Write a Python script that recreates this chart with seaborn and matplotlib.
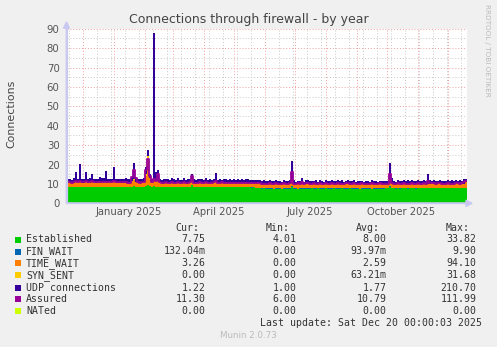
import numpy as np
import pandas as pd
import matplotlib
matplotlib.use("Agg")
import matplotlib.pyplot as plt
import matplotlib.dates as mdates
from matplotlib.patches import Rectangle, FancyArrow
import seaborn as sns

# ---------------- data (2-day samples, 2024-11-15 .. 2025-12-20) ----------------
start_date = "2024-11-15"
end_date = "2025-12-20"

established = [
    8.4, 8.5, 8.3, 8.5, 8.6, 8.4, 8.5, 8.4, 8.3, 8.5, 8.4, 8.6, 8.5, 8.4, 8.3, 8.5, 8.4, 8.5, 8.6, 8.4,
    8.5, 8.4, 8.3, 8.6, 8.5, 8.4, 8.5, 8.3, 8.4, 8.5, 8.4, 8.3, 8.6, 8.8, 8.5, 8.4, 8.3, 8.5, 8.4, 8.9,
    9.4, 8.8, 8.5, 9.0, 8.6, 8.4, 8.5, 8.3, 8.4, 8.5, 8.4, 8.3, 8.5, 8.4, 8.3, 8.5, 8.4, 8.3, 8.5, 8.4,
    8.3, 8.5, 9.6, 8.4, 8.3, 8.4, 8.5, 8.3, 8.4, 8.5, 8.3, 8.4, 8.3, 8.5, 8.4, 8.3, 8.4, 8.5, 8.3, 8.4,
    8.3, 8.4, 8.2, 8.3, 8.4, 8.2, 8.3, 8.2, 8.4, 8.3, 8.2, 8.3, 8.1, 8.2, 8.0, 7.9, 7.7, 7.6, 7.7, 7.6,
    7.5, 7.6, 7.5, 7.4, 7.5, 7.6, 7.5, 7.4, 7.6, 7.5, 7.6, 7.5, 8.6, 7.6, 7.5, 7.4, 7.5, 7.6, 7.5, 7.6,
    7.5, 7.6, 7.7, 7.5, 7.6, 7.7, 7.6, 7.5, 7.6, 7.7, 7.6, 7.5, 7.6, 7.7, 7.6, 7.5, 7.6, 7.7, 7.6, 7.5,
    7.6, 7.7, 7.6, 7.5, 7.6, 7.5, 7.4, 7.5, 7.6, 7.5, 7.6, 7.5, 7.4, 7.5, 7.6, 7.5, 7.6, 7.5, 7.6, 7.7,
    7.8, 8.6, 7.8, 7.7, 7.6, 7.7, 7.6, 7.7, 7.8, 7.7, 7.6, 7.7, 7.8, 7.7, 7.6, 7.7, 7.8, 7.7, 7.8, 7.7,
    7.8, 7.7, 7.8, 7.7, 7.8, 7.9, 7.8, 7.7, 7.8, 7.7, 7.8, 7.7, 7.8, 7.7, 7.8, 7.7, 7.8, 7.7, 7.8, 7.75,
]

fin_wait = [
    0.05, 0.04, 0.05, 0.06, 0.05, 0.04, 0.05, 0.05, 0.06, 0.05, 0.04, 0.05, 0.05, 0.06, 0.05, 0.04, 0.05, 0.05, 0.06, 0.05,
    0.04, 0.05, 0.05, 0.06, 0.05, 0.04, 0.05, 0.05, 0.06, 0.05, 0.04, 0.05, 0.05, 0.06, 0.05, 0.04, 0.05, 0.05, 0.06, 0.05,
    0.08, 0.05, 0.05, 0.06, 0.05, 0.04, 0.05, 0.05, 0.06, 0.05, 0.04, 0.05, 0.05, 0.06, 0.05, 0.04, 0.05, 0.05, 0.06, 0.05,
    0.04, 0.05, 0.05, 0.06, 0.05, 0.04, 0.05, 0.05, 0.06, 0.05, 0.04, 0.05, 0.05, 0.06, 0.05, 0.04, 0.05, 0.05, 0.06, 0.05,
    0.06, 0.07, 0.08, 0.08, 0.09, 0.10, 0.10, 0.11, 0.12, 0.12, 0.12, 0.13, 0.13, 0.14, 0.14, 0.14, 0.15, 0.15, 0.15, 0.15,
    0.15, 0.14, 0.16, 0.15, 0.14, 0.15, 0.16, 0.15, 0.14, 0.15, 0.16, 0.15, 0.14, 0.15, 0.16, 0.15, 0.14, 0.15, 0.16, 0.15,
    0.14, 0.15, 0.16, 0.15, 0.14, 0.15, 0.16, 0.15, 0.14, 0.15, 0.16, 0.15, 0.14, 0.15, 0.16, 0.15, 0.14, 0.15, 0.16, 0.15,
    0.14, 0.15, 0.16, 0.15, 0.14, 0.15, 0.16, 0.15, 0.14, 0.15, 0.16, 0.15, 0.14, 0.15, 0.16, 0.15, 0.14, 0.15, 0.16, 0.15,
    0.14, 0.15, 0.16, 0.15, 0.14, 0.15, 0.16, 0.15, 0.14, 0.15, 0.16, 0.15, 0.14, 0.15, 0.16, 0.15, 0.14, 0.15, 0.16, 0.15,
    0.14, 0.15, 0.16, 0.15, 0.14, 0.15, 0.16, 0.15, 0.14, 0.15, 0.16, 0.15, 0.14, 0.15, 0.16, 0.15, 0.14, 0.15, 0.16, 0.132,
]

time_wait = [
    2.2, 2.3, 2.1, 2.4, 2.6, 2.3, 2.5, 2.2, 2.3, 2.5, 2.2, 2.4, 2.6, 2.3, 2.2, 2.4, 2.3, 2.5, 2.4, 2.3,
    2.2, 2.3, 2.4, 2.6, 2.3, 2.2, 2.1, 2.3, 2.2, 2.4, 2.1, 2.2, 2.6, 3.2, 2.5, 2.2, 2.1, 2.3, 2.6, 5.0,
    10.0, 4.0, 2.4, 3.5, 2.6, 3.0, 2.3, 2.2, 2.1, 2.2, 2.0, 2.1, 2.2, 2.0, 2.1, 2.2, 2.0, 2.1, 2.2, 2.0,
    2.1, 2.2, 2.6, 2.1, 2.0, 2.1, 2.2, 2.0, 2.1, 2.2, 2.1, 2.0, 2.1, 2.2, 2.3, 2.1, 2.0, 2.1, 2.2, 2.1,
    2.0, 2.1, 2.2, 2.0, 2.1, 2.3, 2.1, 2.2, 2.0, 2.1, 2.3, 2.2, 2.1, 2.2, 2.3, 2.4, 2.5, 2.4, 2.3, 2.4,
    2.3, 2.2, 2.4, 2.3, 2.2, 2.4, 2.3, 2.2, 2.3, 2.4, 2.3, 2.2, 2.8, 2.4, 2.3, 2.2, 2.3, 2.4, 2.2, 2.3,
    2.2, 2.3, 2.2, 2.4, 2.3, 2.2, 2.3, 2.4, 2.2, 2.3, 2.2, 2.1, 2.3, 2.2, 2.4, 2.3, 2.2, 2.3, 2.2, 2.4,
    2.3, 2.2, 2.3, 2.4, 2.2, 2.3, 2.4, 2.2, 2.1, 2.3, 2.2, 2.3, 2.4, 2.2, 2.3, 2.2, 2.1, 2.3, 2.2, 2.3,
    2.2, 2.8, 2.3, 2.2, 2.1, 2.2, 2.3, 2.2, 2.1, 2.2, 2.3, 2.2, 2.1, 2.2, 2.3, 2.2, 2.1, 2.2, 2.3, 2.2,
    2.1, 2.2, 2.3, 2.2, 2.1, 2.2, 2.3, 2.2, 2.1, 2.2, 2.3, 2.2, 2.1, 2.2, 2.3, 2.4, 2.2, 2.3, 2.2, 3.26,
]

syn_sent = [
    0.03, 0.02, 0.03, 0.04, 0.03, 0.02, 0.03, 0.03, 0.04, 0.03, 0.02, 0.03, 0.03, 0.04, 0.03, 0.02, 0.03, 0.03, 0.04, 0.03,
    0.02, 0.03, 0.03, 0.04, 0.03, 0.02, 0.03, 0.03, 0.04, 0.03, 0.02, 0.03, 0.03, 0.30, 0.03, 0.02, 0.03, 0.03, 0.04, 1.00,
    5.00, 0.40, 0.03, 0.20, 0.03, 0.02, 0.03, 0.03, 0.04, 0.03, 0.02, 0.03, 0.03, 0.04, 0.03, 0.02, 0.03, 0.03, 0.04, 0.03,
    0.02, 0.03, 0.10, 0.04, 0.03, 0.02, 0.03, 0.03, 0.04, 0.03, 0.02, 0.03, 0.03, 0.04, 0.03, 0.02, 0.03, 0.03, 0.04, 0.03,
    0.02, 0.03, 0.03, 0.04, 0.03, 0.02, 0.03, 0.03, 0.04, 0.03, 0.02, 0.03, 0.03, 0.04, 0.03, 0.02, 0.03, 0.03, 0.04, 0.03,
    0.02, 0.03, 0.03, 0.04, 0.03, 0.02, 0.03, 0.03, 0.04, 0.03, 0.02, 0.03, 0.40, 0.04, 0.03, 0.02, 0.03, 0.03, 0.04, 0.03,
    0.02, 0.03, 0.03, 0.04, 0.03, 0.02, 0.03, 0.03, 0.04, 0.03, 0.02, 0.03, 0.03, 0.04, 0.03, 0.02, 0.03, 0.03, 0.04, 0.03,
    0.02, 0.03, 0.03, 0.04, 0.03, 0.02, 0.03, 0.03, 0.04, 0.03, 0.02, 0.03, 0.03, 0.04, 0.03, 0.02, 0.03, 0.03, 0.04, 0.03,
    0.02, 1.20, 0.10, 0.04, 0.03, 0.02, 0.03, 0.03, 0.04, 0.03, 0.02, 0.03, 0.03, 0.04, 0.03, 0.02, 0.03, 0.03, 0.04, 0.03,
    0.02, 0.03, 0.03, 0.04, 0.03, 0.02, 0.03, 0.03, 0.04, 0.03, 0.02, 0.03, 0.03, 0.04, 0.03, 0.02, 0.03, 0.03, 0.04, 0.00,
]

udp = [
    1.8, 1.9, 1.7, 2.0, 5.0, 1.8, 9.0, 1.9, 1.7, 5.0, 1.8, 2.0, 4.0, 1.9, 1.8, 1.7, 3.0, 1.9, 1.8, 6.0,
    1.7, 1.8, 1.9, 7.5, 1.8, 1.7, 1.9, 1.8, 1.7, 1.9, 1.8, 1.7, 2.5, 8.5, 2.2, 1.9, 1.8, 1.7, 1.9, 4.0,
    3.0, 2.0, 1.8, 75.0, 5.0, 5.5, 1.9, 1.5, 2.1, 1.6, 2.0, 1.5, 2.5, 1.9, 1.4, 2.1, 1.7, 1.5, 2.0, 1.6,
    2.1, 1.5, 2.6, 1.9, 1.4, 2.2, 1.6, 1.9, 1.5, 2.1, 1.7, 2.0, 1.5, 1.9, 5.0, 1.6, 2.1, 1.5, 1.9, 1.7,
    1.5, 2.0, 1.6, 1.9, 1.4, 2.1, 1.6, 1.8, 1.4, 2.0, 1.7, 1.5, 1.9, 1.6, 1.4, 1.8, 1.5, 1.3, 1.7, 1.4,
    1.4, 1.8, 1.2, 1.6, 1.9, 1.3, 1.7, 1.2, 1.8, 1.5, 1.3, 1.9, 10.0, 1.6, 1.2, 1.8, 1.4, 3.0, 1.2, 1.7,
    1.9, 1.2, 1.6, 1.4, 1.8, 1.1, 1.7, 1.5, 1.2, 1.9, 1.3, 1.6, 1.8, 1.2, 1.5, 1.9, 1.3, 1.7, 1.2, 1.6,
    1.8, 1.3, 1.5, 1.9, 1.2, 1.6, 1.4, 1.8, 1.1, 1.7, 1.5, 1.2, 1.9, 1.4, 1.6, 1.2, 1.8, 1.3, 1.7, 1.5,
    1.4, 8.0, 2.5, 1.6, 1.2, 1.8, 1.5, 1.3, 1.9, 1.2, 1.7, 1.4, 1.8, 1.2, 1.6, 1.9, 1.3, 1.5, 1.8, 1.2,
    5.0, 1.7, 1.3, 1.8, 1.5, 1.2, 1.9, 1.4, 1.6, 1.2, 1.8, 1.3, 1.7, 1.5, 1.9, 1.2, 1.6, 1.4, 2.5, 1.22,
]

assured = [
    10.9, 11.0, 10.7, 11.1, 11.4, 11.0, 11.6, 10.9, 10.9, 11.3, 10.9, 11.2, 11.3, 10.9, 10.8, 11.1, 11.0, 11.2, 11.2, 11.0,
    11.0, 10.9, 10.9, 11.4, 11.0, 10.8, 10.8, 10.8, 10.8, 11.1, 10.7, 10.7, 13.5, 17.0, 13.0, 10.8, 10.6, 11.0, 11.2, 17.0,
    23.0, 14.0, 11.1, 12.5, 11.3, 15.0, 11.0, 10.7, 10.7, 10.9, 10.6, 10.6, 10.9, 10.6, 10.6, 10.9, 10.6, 10.6, 10.9, 10.6,
    10.6, 10.9, 14.0, 10.7, 10.5, 10.7, 10.9, 10.5, 10.7, 10.9, 10.6, 10.6, 10.6, 10.9, 11.5, 10.6, 10.6, 10.8, 10.7, 10.7,
    10.5, 10.7, 10.6, 10.5, 10.7, 10.7, 10.6, 10.6, 10.6, 10.6, 10.7, 10.7, 10.4, 10.6, 10.5, 10.5, 10.4, 10.2, 10.2, 10.2,
    10.0, 10.3, 10.1, 9.9, 10.4, 10.2, 10.0, 9.8, 10.3, 10.1, 10.1, 10.4, 16.0, 10.2, 10.0, 10.3, 10.0, 11.0, 9.9, 10.3,
    10.4, 10.1, 10.1, 10.3, 10.0, 10.1, 10.4, 10.1, 9.9, 10.4, 10.0, 9.8, 10.3, 10.1, 10.1, 10.4, 10.0, 10.2, 9.9, 10.3,
    10.4, 10.1, 10.1, 10.4, 9.9, 10.1, 9.9, 10.3, 9.9, 10.2, 10.0, 9.9, 10.4, 9.9, 10.1, 9.9, 10.3, 10.0, 10.2, 10.1,
    10.2, 15.0, 10.5, 10.2, 9.9, 10.3, 10.1, 10.1, 10.4, 10.1, 10.2, 10.1, 10.3, 10.1, 10.1, 10.4, 10.1, 10.1, 10.3, 10.1,
    11.5, 10.3, 10.3, 10.3, 10.1, 10.3, 10.4, 10.1, 10.1, 10.1, 10.3, 10.1, 10.2, 10.1, 10.4, 10.3, 10.1, 10.3, 10.8, 11.3,
]

series_names = ["Established", "FIN_WAIT", "TIME_WAIT", "SYN_SENT", "UDP connections", "Assured", "NATed"]
series_colors = ["#00CC00", "#0066B3", "#FF8000", "#FFCC00", "#330099", "#990099", "#CCFF00"]
cur_vals = ["7.75", "132.04m", "3.26", "0.00", "1.22", "11.30", "0.00"]
min_vals = ["4.01", "0.00", "0.00", "0.00", "1.00", "6.00", "0.00"]
avg_vals = ["8.00", "93.97m", "2.59", "63.21m", "1.77", "10.79", "0.00"]
max_vals = ["33.82", "9.90", "94.10", "31.68", "210.70", "111.99", "0.00"]
month_labels = ["January 2025", "April 2025", "July 2025", "October 2025"]
label_dates = ["2025-01-16", "2025-04-16", "2025-07-16", "2025-10-16"]

title = "Connections through firewall - by year"
y_label = "Connections"
last_update = "Last update: Sat Dec 20 00:00:03 2025"

# ---------------- figure ----------------
sns.set_style("white")
plt.rcParams["font.family"] = ["DejaVu Sans"]

W, H = 497, 347
fig = plt.figure(figsize=(W / 100, H / 100), dpi=100, facecolor="#F0F0F0")

def fx(x):
    return x / W

def fy(y):
    return 1 - y / H

L, R, T, B = 66.5, 466.5, 28.8, 203.3
ax = fig.add_axes([fx(L), fy(B), (R - L) / W, (B - T) / H])
ax.set_facecolor("white")

dates = pd.date_range(start_date, periods=len(established), freq="2D")
x_edges = list(dates) + [pd.Timestamp(end_date)]

df = pd.DataFrame({
    "date": dates,
    "Established": established,
    "FIN_WAIT": fin_wait,
    "TIME_WAIT": time_wait,
    "SYN_SENT": syn_sent,
    "UDP connections": udp,
    "Assured": assured,
})

stack_cols = ["Established", "FIN_WAIT", "TIME_WAIT", "SYN_SENT", "UDP connections"]
base = np.zeros(len(df))
for col, c in zip(stack_cols, series_colors[:5]):
    top = base + df[col].to_numpy()
    lo = np.append(base, base[-1])
    hi = np.append(top, top[-1])
    ax.fill_between(x_edges, lo, hi, step="post", color=c, linewidth=0, zorder=3)
    base = top

# Assured as line (step)
ass_y = list(df["Assured"]) + [df["Assured"].iloc[-1]]
line_df = pd.DataFrame({"date": x_edges, "val": ass_y})
sns.lineplot(data=line_df, x="date", y="val", ax=ax, color="#990099", linewidth=1.3,
             drawstyle="steps-post", estimator=None, sort=False, zorder=4)

ax.set_xlim(pd.Timestamp(start_date), pd.Timestamp(end_date))
ax.set_ylim(0, 90)

# grids
ax.xaxis.set_major_locator(mdates.MonthLocator())
ax.xaxis.set_minor_locator(mdates.WeekdayLocator(byweekday=mdates.SU, interval=2))
ax.xaxis.set_major_formatter(plt.NullFormatter())
ax.yaxis.set_major_locator(plt.MultipleLocator(10))
ax.yaxis.set_minor_locator(plt.MultipleLocator(5))
ax.grid(which="minor", color="#C8C8C8", linestyle=(0, (1, 2)), linewidth=0.7, zorder=1)
ax.grid(which="major", color="#F0A0A0", linestyle=(0, (1, 2)), linewidth=0.7, zorder=2)
ax.set_axisbelow(True)

for s in ["top", "right"]:
    ax.spines[s].set_visible(False)
for s in ["left", "bottom"]:
    ax.spines[s].set_color("#C8C8F0")
    ax.spines[s].set_linewidth(0.9)
    ax.spines[s].set_zorder(5)

ax.tick_params(axis="y", which="major", length=3, width=0.7, color="#999999",
               labelsize=7.3, labelcolor="#555555", pad=2)
ax.tick_params(axis="y", which="minor", length=0)
ax.tick_params(axis="x", which="major", length=2, width=0.7, color="#F08080", direction="out")
ax.tick_params(axis="x", which="minor", length=1.5, width=0.6, color="#BBBBBB", direction="out")
ax.set_xlabel("")
ax.set_ylabel("")

for lab, d in zip(month_labels, label_dates):
    ax.text(mdates.date2num(pd.Timestamp(d)), -0.052, lab, transform=ax.get_xaxis_transform(),
            ha="center", va="center", fontsize=7.2, color="#555555")

# axis arrows
fig.patches.append(FancyArrow(fx(L), fy(B), 0, fy(22) - fy(B), width=0.0, head_width=0.012,
                              head_length=0.018, length_includes_head=True, color="#C8C8F0",
                              transform=fig.transFigure, figure=fig, zorder=6))
fig.patches.append(FancyArrow(fx(L), fy(B), fx(472) - fx(L), 0, width=0.0, head_width=0.018,
                              head_length=0.012, length_includes_head=True, color="#C8C8F0",
                              transform=fig.transFigure, figure=fig, zorder=6))

# title and labels
fig.text(fx(248.5), fy(19), title, ha="center", va="center", fontsize=9, color="#444444")
fig.text(fx(11), fy(114), y_label, ha="center", va="center", rotation=90, fontsize=7.9, color="#444444")
fig.text(fx(487.5), fy(4), "RRDTOOL / TOBI OETIKER", ha="center", va="top", rotation=270,
         fontsize=5.2, color="#BBBBBB")

# legend block
mono = "DejaVu Sans Mono"
fs = 7.1
tc = "#333333"
col_right = [205.7, 296.7, 386.7, 476.7]
hdr_right = [199, 290, 380, 470]
for hx, h in zip(hdr_right, ["Cur:", "Min:", "Avg:", "Max:"]):
    fig.text(fx(hx), fy(227.7), h, ha="right", va="center", family=mono, fontsize=fs, color=tc)

row_y = [239.5, 251.5, 263.4, 275.4, 287.6, 299.4, 311.2]
for i, name in enumerate(series_names):
    yy = row_y[i]
    fig.patches.append(Rectangle((fx(14.5), fy(yy + 3)), 6 / W, 6 / H, transform=fig.transFigure,
                                 facecolor=series_colors[i], edgecolor="none", figure=fig))
    fig.text(fx(26), fy(yy), name, ha="left", va="center", family=mono, fontsize=fs, color=tc)
    for cx, v in zip(col_right, [cur_vals[i], min_vals[i], avg_vals[i], max_vals[i]]):
        fig.text(fx(cx), fy(yy), v, ha="right", va="center", family=mono, fontsize=fs, color=tc)

fig.text(fx(482), fy(323.3), last_update, ha="right", va="center", family=mono, fontsize=fs, color=tc)
fig.text(fx(248), fy(336), "Munin 2.0.73", ha="center", va="center", fontsize=6.3, color="#BBBBBB")

fig.savefig("out.png", dpi=100, facecolor=fig.get_facecolor())
